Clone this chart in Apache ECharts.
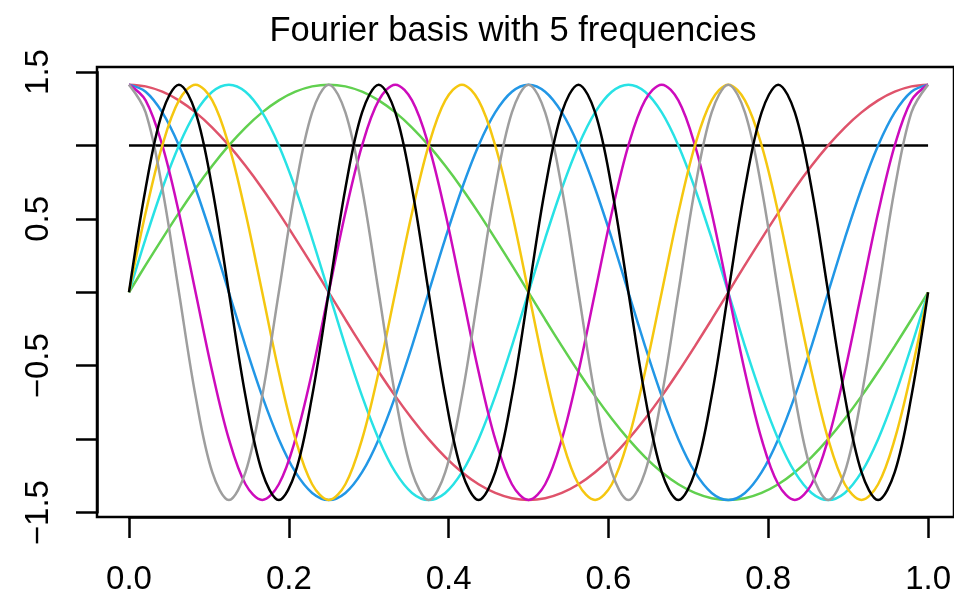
<!DOCTYPE html>
<html><head><meta charset="utf-8">
<script src="https://cdn.jsdelivr.net/npm/echarts@6/dist/echarts.min.js"></script>
<style>html,body{margin:0;padding:0;background:#fff}#c{width:954px;height:598px}</style>
</head><body><div id="c"></div>
<script>
const titleText = 'Fourier basis with 5 frequencies';
const xTickLabels = ['0.0','0.2','0.4','0.6','0.8','1.0'];
const yTickLabels = ['\u22121.5','','\u22120.5','','0.5','','1.5'];

const xs = [0,.0208,.0417,.0625,.0833,.1042,.125,.1458,.1667,.1875,.2083,.2292,.25,.2708,.2917,.3125,.3333,.3542,.375,.3958,.4167,.4375,.4583,.4792,.5,.5208,.5417,.5625,.5833,.6042,.625,.6458,.6667,.6875,.7083,.7292,.75,.7708,.7917,.8125,.8333,.8542,.875,.8958,.9167,.9375,.9583,.9792,1];
const constX = [0, 1];
const constY = [1, 1];
const cos1 = [1.414,1.402,1.366,1.307,1.225,1.122,1,0.861,0.707,0.541,0.366,0.185,0,-0.185,-0.366,-0.541,-0.707,-0.861,-1,-1.122,-1.225,-1.307,-1.366,-1.402,-1.414,-1.402,-1.366,-1.307,-1.225,-1.122,-1,-0.861,-0.707,-0.541,-0.366,-0.185,0,0.185,0.366,0.541,0.707,0.861,1,1.122,1.225,1.307,1.366,1.402,1.414];
const sin1 = [0,0.185,0.366,0.541,0.707,0.861,1,1.122,1.225,1.307,1.366,1.402,1.414,1.402,1.366,1.307,1.225,1.122,1,0.861,0.707,0.541,0.366,0.185,0,-0.185,-0.366,-0.541,-0.707,-0.861,-1,-1.122,-1.225,-1.307,-1.366,-1.402,-1.414,-1.402,-1.366,-1.307,-1.225,-1.122,-1,-0.861,-0.707,-0.541,-0.366,-0.185,0];
const cos2 = [1.414,1.366,1.225,1,0.707,0.366,0,-0.366,-0.707,-1,-1.225,-1.366,-1.414,-1.366,-1.225,-1,-0.707,-0.366,0,0.366,0.707,1,1.225,1.366,1.414,1.366,1.225,1,0.707,0.366,0,-0.366,-0.707,-1,-1.225,-1.366,-1.414,-1.366,-1.225,-1,-0.707,-0.366,0,0.366,0.707,1,1.225,1.366,1.414];
const sin2 = [0,0.366,0.707,1,1.225,1.366,1.414,1.366,1.225,1,0.707,0.366,0,-0.366,-0.707,-1,-1.225,-1.366,-1.414,-1.366,-1.225,-1,-0.707,-0.366,0,0.366,0.707,1,1.225,1.366,1.414,1.366,1.225,1,0.707,0.366,0,-0.366,-0.707,-1,-1.225,-1.366,-1.414,-1.366,-1.225,-1,-0.707,-0.366,0];
const cos3 = [1.414,1.307,1,0.541,0,-0.541,-1,-1.307,-1.414,-1.307,-1,-0.541,0,0.541,1,1.307,1.414,1.307,1,0.541,0,-0.541,-1,-1.307,-1.414,-1.307,-1,-0.541,0,0.541,1,1.307,1.414,1.307,1,0.541,0,-0.541,-1,-1.307,-1.414,-1.307,-1,-0.541,0,0.541,1,1.307,1.414];
const sin3 = [0,0.541,1,1.307,1.414,1.307,1,0.541,0,-0.541,-1,-1.307,-1.414,-1.307,-1,-0.541,0,0.541,1,1.307,1.414,1.307,1,0.541,0,-0.541,-1,-1.307,-1.414,-1.307,-1,-0.541,0,0.541,1,1.307,1.414,1.307,1,0.541,0,-0.541,-1,-1.307,-1.414,-1.307,-1,-0.541,0];
const cos4 = [1.414,1.225,0.707,0,-0.707,-1.225,-1.414,-1.225,-0.707,0,0.707,1.225,1.414,1.225,0.707,0,-0.707,-1.225,-1.414,-1.225,-0.707,0,0.707,1.225,1.414,1.225,0.707,0,-0.707,-1.225,-1.414,-1.225,-0.707,0,0.707,1.225,1.414,1.225,0.707,0,-0.707,-1.225,-1.414,-1.225,-0.707,0,0.707,1.225,1.414];
const sin4 = [0,0.707,1.225,1.414,1.225,0.707,0,-0.707,-1.225,-1.414,-1.225,-0.707,0,0.707,1.225,1.414,1.225,0.707,0,-0.707,-1.225,-1.414,-1.225,-0.707,0,0.707,1.225,1.414,1.225,0.707,0,-0.707,-1.225,-1.414,-1.225,-0.707,0,0.707,1.225,1.414,1.225,0.707,0,-0.707,-1.225,-1.414,-1.225,-0.707,0];

const seriesNames = ['const','cos1','sin1','cos2','sin2','cos3','sin3','cos4','sin4'];
const seriesValues = [null, cos1, sin1, cos2, sin2, cos3, sin3, cos4, sin4];
const colors = ['#000000','#DF536B','#61D04F','#2297E6','#28E2E5','#CD0BBC','#F5C710','#9E9E9E','#000000'];

const FONT = '"Liberation Sans", Arial, Helvetica, sans-serif';
const series = seriesNames.map((n, k) => {
  const data = k === 0 ? constX.map((x, i) => [x, constY[i]]) : xs.map((x, i) => [x, seriesValues[k][i]]);
  return {
    name: n, type: 'line', xAxisIndex: 0, yAxisIndex: 0, data,
    showSymbol: false, smooth: k === 0 ? false : 0.35, silent: true, animation: false,
    lineStyle: { color: colors[k], width: 2.5 }, z: 2 + k
  };
});

const chart = echarts.init(document.getElementById('c'), null, { renderer: 'canvas' });
chart.setOption({
  animation: false,
  title: { text: titleText, left: 508, textAlign: 'center', top: 9,
    textStyle: { fontFamily: FONT, fontSize: 34.5, fontWeight: 'normal', color: '#000' } },
  grid: [
    { left: 129, width: 800, top: 72, height: 440.6, containLabel: false },
    { left: 97, top: 67, width: 900, height: 450, show: true, borderColor: '#000', borderWidth: 2.5, backgroundColor: 'transparent' }
  ],
  xAxis: [
    { type: 'value', gridIndex: 0, min: 0, max: 1, interval: 0.2, offset: 4.5,
      axisLine: { show: true, onZero: false, lineStyle: { color: '#000', width: 2.5 } },
      axisTick: { show: true, length: 21, lineStyle: { color: '#000', width: 2.5 } },
      splitLine: { show: false },
      axisLabel: { margin: 46, fontFamily: FONT, fontSize: 33, color: '#000',
        showMinLabel: true, showMaxLabel: true, hideOverlap: false,
        formatter: (v, i) => xTickLabels[i] } },
    { type: 'value', gridIndex: 1, min: 0, max: 1, show: false }
  ],
  yAxis: [
    { type: 'value', gridIndex: 0, min: -1.5, max: 1.5, interval: 0.5, offset: 32,
      axisLine: { show: true, onZero: false, lineStyle: { color: '#000', width: 2.5 } },
      axisTick: { show: true, length: 21, lineStyle: { color: '#000', width: 2.5 } },
      splitLine: { show: false },
      axisLabel: { margin: 42, rotate: 90, fontFamily: FONT, fontSize: 33, color: '#000',
        showMinLabel: true, showMaxLabel: true, hideOverlap: false,
        formatter: (v, i) => yTickLabels[i] } },
    { type: 'value', gridIndex: 1, min: 0, max: 1, show: false }
  ],
  series
});
</script>
</body></html>
